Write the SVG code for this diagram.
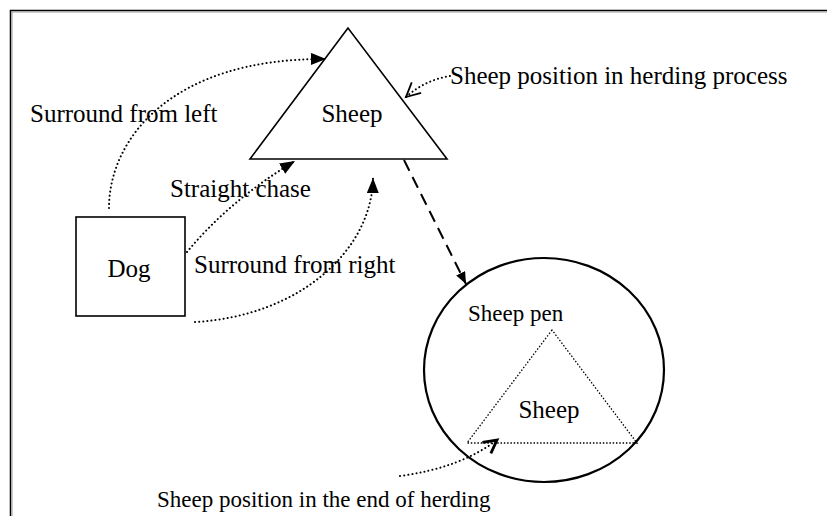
<svg xmlns="http://www.w3.org/2000/svg" width="827" height="516" viewBox="0 0 827 516">
<style>
text{font-family:"Liberation Serif","Times New Roman",serif;fill:#000}
.big{font-size:25px}
.mid{font-size:23px}
.shape{fill:none;stroke:#000;stroke-width:1.6}
.dot{fill:none;stroke:#000;stroke-width:2;stroke-dasharray:0.1 4;stroke-linecap:round}
.dash{fill:none;stroke:#000;stroke-width:2;stroke-dasharray:12 7}
</style>
<defs>
<marker id="fill" markerUnits="userSpaceOnUse" markerWidth="16" markerHeight="14" refX="15" refY="6" orient="auto">
<path d="M0,0 L15,6 L0,12 Z" fill="#000"/>
</marker>
<marker id="fillSmall" markerUnits="userSpaceOnUse" markerWidth="13" markerHeight="12" refX="12" refY="5" orient="auto">
<path d="M0,0 L12,5 L0,10 Z" fill="#000"/>
</marker>
<marker id="open" markerUnits="userSpaceOnUse" markerWidth="20" markerHeight="20" refX="16" refY="8" orient="auto">
<path d="M2,1 L16,8 L2,15" fill="none" stroke="#000" stroke-width="1.8"/>
</marker>
<marker id="openThick" markerUnits="userSpaceOnUse" markerWidth="20" markerHeight="20" refX="16" refY="8" orient="auto">
<path d="M3,1 L16,8 L3,15" fill="none" stroke="#000" stroke-width="2.8"/>
</marker>
</defs>
<rect width="827" height="516" fill="#fff"/>
<g id="frame">
<path d="M10.5,516 V10.5 H827" fill="none" stroke="#000" stroke-width="1.5"/>
<path d="M12,516 V12 H827" fill="none" stroke="#999" stroke-width="1"/>
</g>
<g id="sheep">
<polygon class="shape" points="348,28 250,159 447,159"/>
<text class="big" x="352" y="122" text-anchor="middle">Sheep</text>
</g>
<g id="dog">
<rect class="shape" x="76" y="217" width="109" height="99"/>
<text class="big" x="129" y="277" text-anchor="middle">Dog</text>
</g>
<g id="pen">
<ellipse cx="544" cy="370" rx="120" ry="112" fill="none" stroke="#000" stroke-width="2.2"/>
<text class="mid" x="468" y="321">Sheep pen</text>
</g>
<g id="sheep-end">
<polygon points="552,330 467,443 637,443" fill="none" stroke="#000" stroke-width="1.3" stroke-dasharray="1.5 1.8"/>
<text class="big" x="549" y="418" text-anchor="middle">Sheep</text>
</g>
<g id="labels">
<text class="big" x="30" y="122">Surround from left</text>
<text class="big" x="170" y="197">Straight chase</text>
<text class="big" x="194" y="273">Surround from right</text>
<text class="big" x="450" y="84">Sheep position in herding process</text>
<text class="mid" x="157" y="507">Sheep position in the end of herding</text>
</g>
<g id="connectors">
<path class="dot" d="M109,208 C109,140 170,58 326,59" marker-end="url(#fill)"/>
<path class="dot" d="M187,252 Q230,200 295,161" marker-end="url(#fill)"/>
<path class="dot" d="M195,322 C300,316 372,250 373,178" marker-end="url(#fill)"/>
<path class="dot" d="M450,76 Q425,80 406,97" marker-end="url(#open)"/>
<path class="dash" d="M404,160 L466,284" marker-end="url(#fillSmall)"/>
<path class="dot" d="M400,476 Q460,468 497,440" marker-end="url(#openThick)"/>
</g>
</svg>
